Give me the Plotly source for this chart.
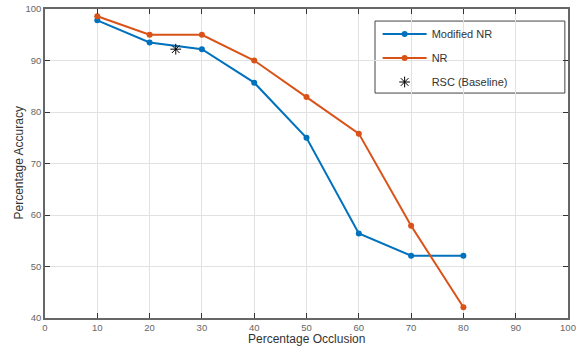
import plotly.graph_objects as go

occlusion = [10, 20, 30, 40, 50, 60, 70, 80]
modified_nr = [97.8, 93.5, 92.2, 85.7, 75.0, 56.4, 52.1, 52.1]
nr = [98.6, 95.0, 95.0, 90.0, 82.9, 75.8, 57.9, 42.1]
rsc_x = [25]
rsc_y = [92.2]

blue = "#0072BD"
orange = "#D95319"
FONT = "Liberation Sans, Arial, Helvetica"

fig = go.Figure()
fig.add_trace(go.Scatter(x=occlusion, y=modified_nr, mode="lines+markers", name="Modified NR",
                         legendgroup="a",
                         line=dict(color=blue, width=2), marker=dict(color=blue, size=6)))
fig.add_trace(go.Scatter(x=occlusion, y=nr, mode="lines+markers", name="NR",
                         legendgroup="b",
                         line=dict(color=orange, width=2), marker=dict(color=orange, size=6)))
fig.add_trace(go.Scatter(x=rsc_x, y=rsc_y, mode="markers", name="RSC (Baseline)",
                         legendgroup="c",
                         marker=dict(symbol="asterisk-open", color="black", size=9,
                                     line=dict(color="black", width=1))))

axis_common = dict(showgrid=True, gridcolor="#e2e2e2", gridwidth=1, showline=True,
                   linecolor="#666", linewidth=1.5, mirror="ticks", ticks="inside",
                   ticklen=5, tickcolor="#333", zeroline=False, automargin=False,
                   tickfont=dict(family=FONT, size=9.5, color="#666"))

fig.update_layout(
    width=584, height=347,
    margin=dict(l=45, r=16, t=9, b=29),
    paper_bgcolor="white", plot_bgcolor="white",
    font=dict(family=FONT, color="#333"),
    xaxis=dict(range=[0, 100], dtick=10, tick0=0, **axis_common),
    yaxis=dict(range=[40, 100], dtick=10, tick0=40, **axis_common),
    legend=dict(x=0.636, y=0.966, xanchor="left", yanchor="top",
                borderwidth=0, bgcolor="rgba(0,0,0,0)",
                font=dict(family=FONT, size=11, color="#333"), itemwidth=44,
                tracegroupgap=5),
    showlegend=True,
    shapes=[dict(type="rect", xref="paper", yref="paper", x0=0.631, x1=0.994, y0=0.728, y1=0.961,
                 line=dict(color="#444", width=1), fillcolor="white", layer="below")],
    annotations=[
        dict(text="Percentage Occlusion", xref="paper", yref="paper", x=0.5, y=0,
             yshift=-21, xanchor="center", yanchor="middle", showarrow=False,
             font=dict(family=FONT, size=12, color="#333")),
        dict(text="Percentage Accuracy", xref="paper", yref="paper", x=0, y=0.5,
             xshift=-27, xanchor="center", yanchor="middle", showarrow=False, textangle=-90,
             font=dict(family=FONT, size=12, color="#333")),
    ],
)

fig.write_html("out.html", config={"displayModeBar": False},
               post_script="document.body.style.margin='0';")
